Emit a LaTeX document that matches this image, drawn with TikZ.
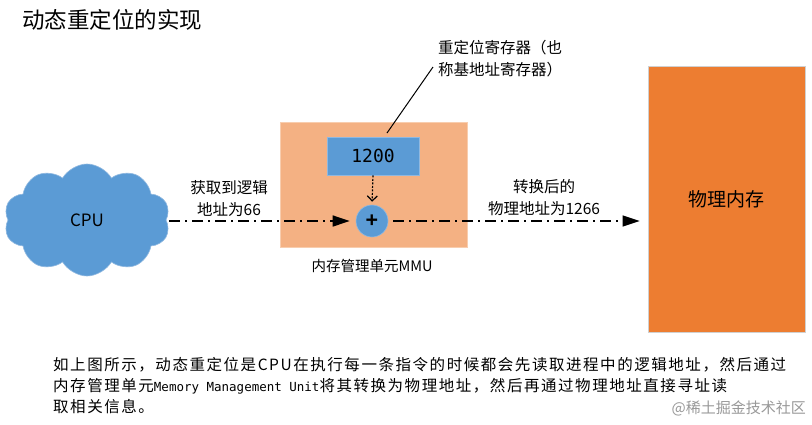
\documentclass[tikz,border=0pt]{standalone}
\usepackage{fontspec}
\setmainfont{Noto Sans CJK SC}
\newfontfamily\monofont{DejaVu Sans Mono}
\newfontfamily\spacedfont[LetterSpace=10]{Noto Sans CJK SC}
\usetikzlibrary{shapes.symbols,arrows.meta}
\definecolor{blueA}{HTML}{5B9BD5}
\definecolor{blueB}{HTML}{8FB8E0}
\definecolor{mmuorange}{HTML}{F4B183}
\definecolor{mmuedge}{HTML}{F8CDAE}
\definecolor{memorange}{HTML}{ED7D31}
\definecolor{memedge}{HTML}{D0D0D0}
\tikzset{
  mmubox/.style={rectangle, fill=mmuorange, draw=mmuedge, line width=0.8pt, minimum width=187pt, minimum height=125pt, inner sep=0pt},
  regbox/.style={rectangle, fill=blueA, draw=blueB, line width=0.6pt, minimum width=92pt, minimum height=38pt, font=\monofont\fontsize{18}{20}\selectfont},
  adder/.style={circle, fill=blueA, draw=blueB, line width=0.6pt, minimum size=32pt, inner sep=0pt, font=\monofont\bfseries\fontsize{20}{20}\selectfont},
  cpucloud/.style={cloud, cloud puffs=10, cloud puff arc=120, cloud ignores aspect, fill=blueA, draw=blueB, line width=0.6pt, minimum width=166pt, minimum height=112pt, font=\fontsize{17}{20}\selectfont},
  membox/.style={rectangle, fill=memorange, draw=memedge, line width=0.8pt, minimum width=157pt, minimum height=266pt, font=\fontsize{19}{22}\selectfont},
  lbl/.style={font=\fontsize{15.5}{22}\selectfont, align=center, inner sep=0pt},
  body/.style={font=\spacedfont\fontsize{15.5}{21}\selectfont, anchor=west, inner sep=0pt},
  dashdot/.style={line width=1.4pt, dash pattern=on 11pt off 5pt on 2pt off 5pt},
  bigtip/.style={-{Triangle[length=17pt,width=11pt]}},
}
\begin{document}
\begin{tikzpicture}[x=1pt,y=1pt]
\useasboundingbox (0,0) rectangle (812,-424);
\fill[white] (0,0) rectangle (812,-424);
% title
\node[anchor=west, inner sep=0pt, font=\fontsize{22.5}{24}\selectfont] (title) at (22,-20) {动态重定位的实现};
% MMU
\node[mmubox] (mmu) at (373.5,-184.5) {};
\node[regbox] (reg) at (373,-156) {1200};
\node[adder] (add) at (372,-221) {+};
\node[lbl, font=\fontsize{14.5}{18}\selectfont] (mmulbl) at (372,-266) {内存管理单元MMU};
% register label
\node[lbl, align=left, anchor=north west] (reglbl) at (438,-40) {重定位寄存器（也\\称基地址寄存器）};
\coordinate (regtop) at (387,-133);
\coordinate (lblend) at (433,-67);
\draw[line width=1pt] (regtop) -- (lblend);
% CPU
\node[cpucloud] (cpu) at (87,-220) {CPU};
% memory
\node[membox] (mem) at (726.5,-199) {物理内存};
% arrows
\draw[dashdot, bigtip, shorten >=6pt] ([xshift=3pt]cpu.east |- add.west) -- (add.west);
\draw[dashdot, bigtip, shorten <=5pt, shorten >=8pt] (add.east) -- (mem.west |- add.east);
\draw[line width=1.2pt, dash pattern=on 2pt off 1.5pt, -{Straight Barb[length=5pt,width=10pt]}, shorten >=3pt] (reg.south) -- (add.north);
% arrow labels
\node[lbl] (inlbl) at (229,-199) {获取到逻辑\\地址为66};
\node[lbl] (outlbl) at (544,-198) {转换后的\\物理地址为1266};
% body text
\node[body] (l1) at (53,-365) {如上图所示，动态重定位是CPU在执行每一条指令的时候都会先读取进程中的逻辑地址，然后通过};
\node[body] (l2) at (53,-386) {内存管理单元{\monofont\fontsize{12.5}{14}\selectfont Memory Management Unit}将其转换为物理地址，然后再通过物理地址直接寻址读};
\node[body] (l3) at (53,-407) {取相关信息。};
% watermark
\node[anchor=east, inner sep=0pt, text=black!40, font=\fontsize{15}{18}\selectfont] (wm) at (806,-408) {@稀土掘金技术社区};
\end{tikzpicture}
\end{document}
